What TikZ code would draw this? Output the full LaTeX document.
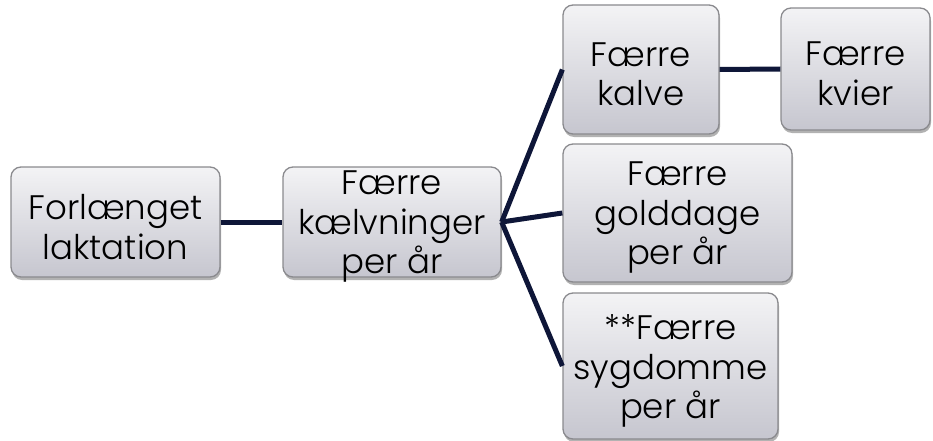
\documentclass[tikz,border=0pt]{standalone}
\usepackage{fontspec}
\setmainfont{Poppins}[UprightFont=* Light]
\usetikzlibrary{shadows}
\definecolor{linecol}{HTML}{0E1638}
\definecolor{boxtop}{HTML}{F3F3F5}
\definecolor{boxbot}{HTML}{C6C6CF}
\definecolor{boxline}{HTML}{8A8A8E}
\tikzset{
  box/.style={rectangle, rounded corners=10pt, draw=boxline, line width=1.3pt,
    top color=boxtop, bottom color=boxbot, inner sep=0pt,
    drop shadow={shadow xshift=1pt, shadow yshift=-3pt, fill=black, opacity=0.3}},
  txt/.style={align=center, inner sep=0pt, font=\fontsize{34}{39.5}\selectfont, text=black, yshift=-5pt},
  conn/.style={draw=linecol, line width=5pt}
}
\begin{document}
\begin{tikzpicture}[x=1pt,y=-1pt]
\useasboundingbox (0,0) rectangle (933,441);
% boxes
\node[box, minimum width=209pt, minimum height=110pt] (b1) at (115.5,222) {};
\node[box, minimum width=218pt, minimum height=110pt] (b2) at (392,222) {};
\node[box, minimum width=156pt, minimum height=129pt] (b3) at (641,69.5) {};
\node[box, minimum width=149pt, minimum height=122pt] (b4) at (855.5,69) {};
\node[box, minimum width=229pt, minimum height=138pt] (b5) at (677.5,213) {};
\node[box, minimum width=215pt, minimum height=146pt] (b6) at (670.5,366) {};
% connectors
\draw[conn] (b1.east) -- (b2.west);
\draw[conn] (b2.east) -- (b3.west);
\draw[conn] (b2.east) -- (b5.west);
\draw[conn] (b2.east) -- (b6.west);
\draw[conn] (b3.east) -- (b4.west);
% texts
\node[txt] (t1) at (b1) {Forlænget\\laktation};
\node[txt] (t2) at (b2) {Færre\\kælvninger\\per år};
\node[txt] (t3) at (b3) {Færre\\kalve};
\node[txt] (t4) at (b4) {Færre\\kvier};
\node[txt] (t5) at (b5) {Færre\\golddage\\per år};
\node[txt] (t6) at (b6) {**Færre\\sygdomme\\per år};
\end{tikzpicture}
\end{document}
